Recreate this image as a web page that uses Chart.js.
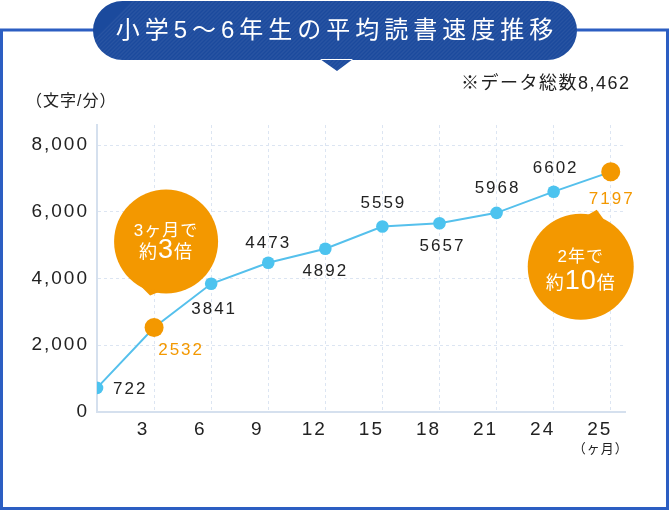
<!DOCTYPE html>
<html lang="ja">
<head>
<meta charset="utf-8">
<title>小学5〜6年生の平均読書速度推移</title>
<script src="https://cdn.jsdelivr.net/npm/chart.js@4.4.1/dist/chart.umd.min.js"></script>
<style>
  html, body { margin: 0; padding: 0; background: #fff; }
  #grafico { display: block; }
</style>
</head>
<body>
<canvas id="grafico" width="669" height="510"></canvas>
<script>
// ---------------- データ ----------------
const meses = ['0', '3', '6', '9', '12', '15', '18', '21', '24', '25'];
const velocidade = [722, 2532, 3841, 4473, 4892, 5559, 5657, 5968, 6602, 7197];
const ticksY = [0, 2000, 4000, 6000, 8000];
const destaques = [1, 9]; // pontos laranja
const titulo = '小学5〜6年生の平均読書速度推移';
const nota = '※データ総数8,462';
const unidadeY = '（文字/分）';
const unidadeX = '（ヶ月）';

// ---------------- estilos ----------------
const FONTE = '"Liberation Sans", "Noto Sans CJK JP", sans-serif';
const AZUL_MOLDURA = '#2c5ec2';
const AZUL_TITULO = '#1b4a9d';
const AZUL_LINHA = '#55c0ec';
const AZUL_PONTO = '#4cc3ef';
const LARANJA = '#f39800';
const GRADE = '#dce5f2';

// deslocamento dos rótulos de cada ponto [dx, dy, align]
const posRotulo = [
  [16, 1, 'left'], [26, 23], [2, 25], [-1, -19], [-1, 23],
  [0, -23], [2, 23], [0, -25], [1, -23], [0, 27]
];

function textoMisto(ctx, partes, cx, base) {
  let total = 0;
  partes.forEach(p => {
    ctx.font = `${p.peso || 400} ${p.s}px ${FONTE}`;
    p.w = ctx.measureText(p.t).width;
    total += p.w;
  });
  let x = cx - total / 2;
  partes.forEach(p => {
    ctx.font = `${p.peso || 400} ${p.s}px ${FONTE}`;
    ctx.fillText(p.t, x, base);
    x += p.w;
  });
}

function balao(ctx, cx, cy, r, cauda, linha1, linha2, base1, base2) {
  ctx.fillStyle = LARANJA;
  ctx.beginPath();
  ctx.arc(cx, cy, r, 0, Math.PI * 2);
  ctx.fill();
  ctx.beginPath();
  ctx.moveTo(cx + cauda[0][0], cy + cauda[0][1]);
  ctx.lineTo(cx + cauda[1][0], cy + cauda[1][1]);
  ctx.lineTo(cx + cauda[2][0], cy + cauda[2][1]);
  ctx.closePath();
  ctx.fill();
  ctx.fillStyle = '#fff';
  ctx.textAlign = 'left';
  ctx.textBaseline = 'alphabetic';
  ctx.letterSpacing = '1px';
  textoMisto(ctx, linha1, cx, cy + base1);
  textoMisto(ctx, linha2, cx, cy + base2);
}

// fundo, moldura e título
const moldura = {
  id: 'moldura',
  beforeDraw(chart) {
    const c = chart.ctx;
    c.save();
    c.fillStyle = '#fff';
    c.fillRect(0, 0, chart.width, chart.height);

    c.strokeStyle = AZUL_MOLDURA;
    c.lineWidth = 3;
    c.strokeRect(1.5, 30, chart.width - 3, chart.height - 31.5);

    // pílula do título
    c.beginPath();
    c.roundRect(93, 1, 484, 59, 29.5);
    c.moveTo(320, 59);
    c.lineTo(337, 71);
    c.lineTo(353, 59);
    c.closePath();
    c.fillStyle = AZUL_TITULO;
    c.fill();
    c.save();
    c.clip();
    c.strokeStyle = 'rgba(255,255,255,0.06)';
    c.lineWidth = 1.5;
    for (let x = 60; x < 640; x += 4) {
      c.beginPath();
      c.moveTo(x, 75);
      c.lineTo(x + 75, 0);
      c.stroke();
    }
    c.restore();

    c.fillStyle = '#fff';
    c.font = `400 24px ${FONTE}`;
    c.letterSpacing = '5px';
    c.textAlign = 'center';
    c.textBaseline = 'middle';
    c.fillText(titulo, 337, 31);

    c.fillStyle = '#222';
    c.font = `400 18px ${FONTE}`;
    c.letterSpacing = '1.5px';
    c.textAlign = 'left';
    c.fillText(nota, 461, 84);

    c.font = `400 16px ${FONTE}`;
    c.letterSpacing = '1px';
    c.fillText(unidadeY, 26, 102);
    c.restore();

    chart.ctx.letterSpacing = '2px';
  },
  afterDraw(chart) {
    chart.ctx.letterSpacing = '0px';
  }
};

// rótulos dos valores, balões e unidade do eixo x
const rotulos = {
  id: 'rotulos',
  afterDatasetsDraw(chart) {
    const c = chart.ctx;
    const pts = chart.getDatasetMeta(0).data;
    c.save();
    c.letterSpacing = '2px';
    c.textBaseline = 'middle';
    velocidade.forEach((v, i) => {
      const [dx, dy, al] = posRotulo[i];
      const destaque = destaques.includes(i);
      c.fillStyle = destaque ? LARANJA : '#222';
      c.font = `400 17px ${FONTE}`;
      c.textAlign = al || 'center';
      c.fillText(String(v), pts[i].x + dx + (al ? 0 : 1), pts[i].y + dy);
    });

    const p1 = pts[destaques[0]];
    balao(c, p1.x + 12, p1.y - 86, 52,
      [[-26, 44], [-6, 50], [-16, 54]],
      [{ t: '3ヶ月で', s: 17 }],
      [{ t: '約', s: 18 }, { t: '3', s: 27 }, { t: '倍', s: 18 }],
      -6, 16);

    const p2 = pts[destaques[1]];
    balao(c, p2.x - 30, p2.y + 95, 53,
      [[4, -50], [24, -46], [16, -57]],
      [{ t: '2年で', s: 17 }],
      [{ t: '約', s: 18 }, { t: '10', s: 27 }, { t: '倍', s: 18 }],
      -5, 22);

    const xs = chart.scales.x;
    c.fillStyle = '#222';
    c.font = `400 13px ${FONTE}`;
    c.letterSpacing = '1px';
    c.textAlign = 'center';
    c.textBaseline = 'middle';
    c.fillText(unidadeX, xs.getPixelForValue(meses.length - 1) - 10, 449);
    c.restore();
  }
};

// ---------------- GRÁFICO ----------------
const ctx = document.getElementById('grafico').getContext('2d');
const grafico = new Chart(ctx, {
  type: 'line',
  data: {
    datasets: [{
      data: velocidade.map((v, i) => ({ x: i, y: v })),
      borderColor: AZUL_LINHA,
      borderWidth: 2,
      pointRadius: velocidade.map((_, i) => destaques.includes(i) ? 9.5 : 6.3),
      pointBackgroundColor: velocidade.map((_, i) => destaques.includes(i) ? LARANJA : AZUL_PONTO),
      pointBorderWidth: 0,
      tension: 0
    }]
  },
  options: {
    responsive: false,
    animation: false,
    layout: { padding: { top: 125, right: 44, left: 0, bottom: 0 } },
    plugins: { legend: { display: false }, tooltip: { enabled: false } },
    scales: {
      x: {
        type: 'linear',
        min: 0,
        max: 9.25,
        afterBuildTicks: s => { s.ticks = meses.map((_, i) => ({ value: i })); },
        afterFit: s => { s.height = 98; },
        grid: {
          color: g => (g.tick && g.tick.value === 0) ? 'rgba(0,0,0,0)' : GRADE,
          drawTicks: false,
          lineWidth: 1
        },
        border: { color: '#d5e0ee', width: 2, dash: [3, 3] },
        ticks: {
          callback: v => v === 0 ? '' : meses[v],
          labelOffset: -11,
          padding: 6,
          autoSkip: false,
          maxRotation: 0,
          color: '#222',
          font: { family: FONTE, size: 19 }
        }
      },
      y: {
        min: 0,
        max: 8600,
        afterBuildTicks: s => { s.ticks = ticksY.map(v => ({ value: v })); },
        afterFit: s => { s.width = 97; },
        grid: {
          color: g => (g.tick && g.tick.value === 0) ? 'rgba(0,0,0,0)' : GRADE,
          drawTicks: false,
          lineWidth: 1
        },
        border: { color: '#d5e0ee', width: 2, dash: [3, 3] },
        ticks: {
          callback: v => v.toLocaleString('en-US'),
          padding: 8,
          color: '#222',
          font: { family: FONTE, size: 19 }
        }
      }
    }
  },
  plugins: [moldura, rotulos]
});
</script>
</body>
</html>
